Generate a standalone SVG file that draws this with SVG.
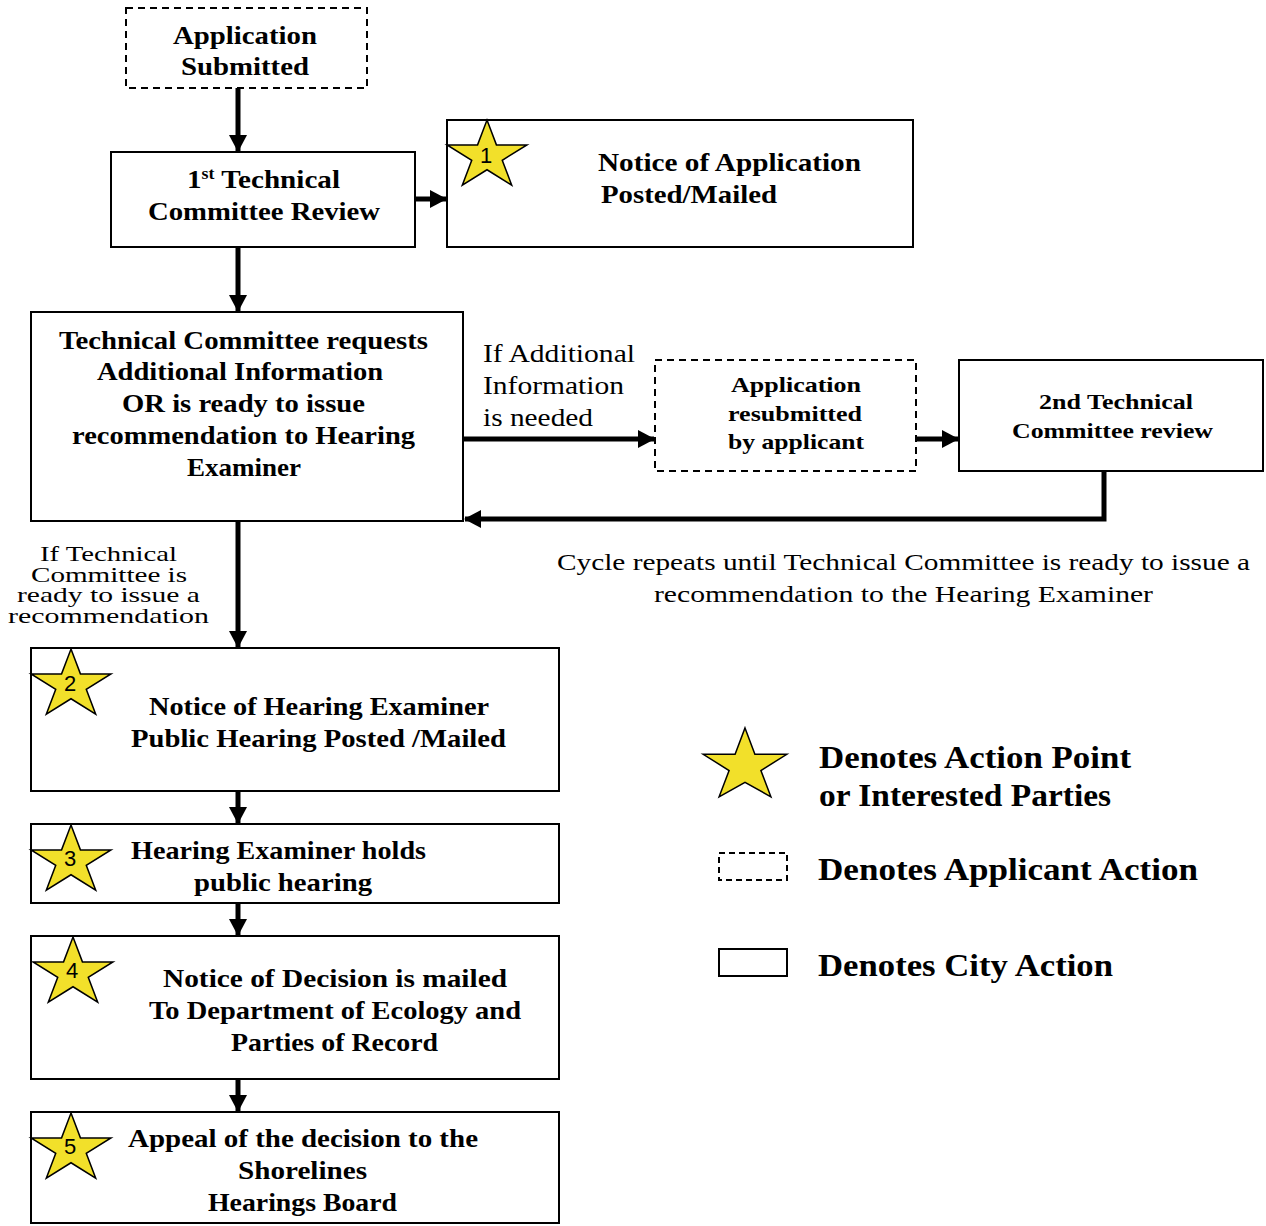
<svg xmlns="http://www.w3.org/2000/svg" xmlns:xlink="http://www.w3.org/1999/xlink" width="1266" height="1226" viewBox="0 0 1266 1226">
<style>
.box{fill:#fff;stroke:#000;stroke-width:2}
.dash{fill:#fff;stroke:#000;stroke-width:2;stroke-dasharray:7,5}
.b{font-family:"Liberation Serif","Times New Roman",serif;font-weight:bold;font-size:26px;fill:#000}
.bs{font-family:"Liberation Serif","Times New Roman",serif;font-weight:bold;font-size:22px;fill:#000}
.r{font-family:"Liberation Serif","Times New Roman",serif;font-size:26px;fill:#000}
.rt{font-family:"Liberation Serif","Times New Roman",serif;font-size:21px;fill:#000}
.rc{font-family:"Liberation Serif","Times New Roman",serif;font-size:24px;fill:#000}
.lg{font-family:"Liberation Serif","Times New Roman",serif;font-weight:bold;font-size:31px;fill:#000}
.num{font-family:"Liberation Sans",Arial,sans-serif;font-size:22px;fill:#000;text-anchor:middle}
.star{fill:#f2e02a;stroke:#000;stroke-width:1.5;stroke-linejoin:miter}
.c{text-anchor:middle}
.conn{fill:none;stroke:#000;stroke-width:5;marker-end:url(#ah)}
</style>
<defs>
<marker id="ah" markerUnits="userSpaceOnUse" markerWidth="18" markerHeight="18" refX="16" refY="9" orient="auto">
<path d="M0,0 L17,9 L0,18 Z" fill="#000"/>
</marker>
<path id="star" class="star" d="M0,-36 L9.43,-11.12 L39.94,-11.12 L15.25,4.25 L24.7,29.12 L0,13.75 L-24.7,29.12 L-15.25,4.25 L-39.94,-11.12 L-9.43,-11.12 Z"/>
</defs>

<g id="connectors">
<line class="conn" x1="238" y1="88" x2="238" y2="151"/>
<line class="conn" x1="238" y1="248" x2="238" y2="311"/>
<line class="conn" x1="415" y1="199" x2="446" y2="199"/>
<line class="conn" x1="463" y1="439" x2="654" y2="439"/>
<line class="conn" x1="916" y1="439" x2="958" y2="439"/>
<path class="conn" d="M1104,471 V519 H465"/>
<line class="conn" x1="238" y1="521" x2="238" y2="647"/>
<line class="conn" x1="238" y1="792" x2="238" y2="823"/>
<line class="conn" x1="238" y1="904" x2="238" y2="935"/>
<line class="conn" x1="238" y1="1080" x2="238" y2="1111"/>
</g>

<g id="app-submitted">
<rect class="dash" x="126" y="8" width="241" height="80"/>
<text class="b c" x="245" y="44" textLength="144" lengthAdjust="spacingAndGlyphs">Application</text>
<text class="b c" x="245" y="75" textLength="128" lengthAdjust="spacingAndGlyphs">Submitted</text>
</g>

<g id="first-review">
<rect class="box" x="111" y="152" width="304" height="95"/>
<text class="b c" x="263.5" y="188" textLength="153" lengthAdjust="spacingAndGlyphs">1<tspan font-size="16" dy="-9">st</tspan><tspan dy="9"> Technical</tspan></text>
<text class="b c" x="264" y="220" textLength="232" lengthAdjust="spacingAndGlyphs">Committee Review</text>
</g>

<g id="notice-application">
<rect class="box" x="447" y="120" width="466" height="127"/>
<use xlink:href="#star" x="487" y="156"/>
<text class="num" x="486" y="163">1</text>
<text class="b" x="598" y="171" textLength="263" lengthAdjust="spacingAndGlyphs">Notice of Application</text>
<text class="b" x="601" y="203" textLength="176" lengthAdjust="spacingAndGlyphs">Posted/Mailed</text>
</g>

<g id="tc-requests">
<rect class="box" x="31" y="312" width="432" height="209"/>
<text class="b c" x="243.5" y="349" textLength="369" lengthAdjust="spacingAndGlyphs">Technical Committee requests</text>
<text class="b c" x="240" y="380" textLength="286" lengthAdjust="spacingAndGlyphs">Additional Information</text>
<text class="b c" x="243.5" y="412" textLength="243" lengthAdjust="spacingAndGlyphs">OR is ready to issue</text>
<text class="b c" x="243.5" y="444" textLength="343" lengthAdjust="spacingAndGlyphs">recommendation to Hearing</text>
<text class="b c" x="244" y="476" textLength="114" lengthAdjust="spacingAndGlyphs">Examiner</text>
</g>

<g id="label-additional">
<text class="r" x="483" y="362" textLength="152" lengthAdjust="spacingAndGlyphs">If Additional</text>
<text class="r" x="483" y="394" textLength="141" lengthAdjust="spacingAndGlyphs">Information</text>
<text class="r" x="483" y="426" textLength="110" lengthAdjust="spacingAndGlyphs">is needed</text>
</g>

<g id="resubmitted">
<rect class="dash" x="655" y="360" width="261" height="111"/>
<text class="bs c" x="796" y="392" textLength="130" lengthAdjust="spacingAndGlyphs">Application</text>
<text class="bs c" x="795" y="421" textLength="134" lengthAdjust="spacingAndGlyphs">resubmitted</text>
<text class="bs c" x="796" y="449" textLength="136" lengthAdjust="spacingAndGlyphs">by applicant</text>
</g>

<g id="second-review">
<rect class="box" x="959" y="360" width="304" height="111"/>
<text class="bs c" x="1116" y="409" textLength="154" lengthAdjust="spacingAndGlyphs">2nd Technical</text>
<text class="bs c" x="1112.5" y="438" textLength="201" lengthAdjust="spacingAndGlyphs">Committee review</text>
</g>

<g id="label-cycle">
<text class="rc c" x="903.5" y="570" textLength="693" lengthAdjust="spacingAndGlyphs">Cycle repeats until Technical Committee is ready to issue a</text>
<text class="rc c" x="903.5" y="602" textLength="499" lengthAdjust="spacingAndGlyphs">recommendation to the Hearing Examiner</text>
</g>

<g id="label-ready">
<text class="rt c" x="108.5" y="561" textLength="137" lengthAdjust="spacingAndGlyphs">If Technical</text>
<text class="rt c" x="109" y="582" textLength="156" lengthAdjust="spacingAndGlyphs">Committee is</text>
<text class="rt c" x="108.5" y="602" textLength="183" lengthAdjust="spacingAndGlyphs">ready to issue a</text>
<text class="rt c" x="108.5" y="623" textLength="201" lengthAdjust="spacingAndGlyphs">recommendation</text>
</g>

<g id="notice-hearing">
<rect class="box" x="31" y="648" width="528" height="143"/>
<use xlink:href="#star" x="71" y="685"/>
<text class="num" x="70" y="691">2</text>
<text class="b c" x="319" y="715" textLength="340" lengthAdjust="spacingAndGlyphs">Notice of Hearing Examiner</text>
<text class="b c" x="318.5" y="747" textLength="375" lengthAdjust="spacingAndGlyphs">Public Hearing Posted /Mailed</text>
</g>

<g id="public-hearing">
<rect class="box" x="31" y="824" width="528" height="79"/>
<use xlink:href="#star" x="71" y="861"/>
<text class="num" x="70" y="866">3</text>
<text class="b c" x="278.5" y="859" textLength="295" lengthAdjust="spacingAndGlyphs">Hearing Examiner holds</text>
<text class="b c" x="283" y="891" textLength="178" lengthAdjust="spacingAndGlyphs">public hearing</text>
</g>

<g id="notice-decision">
<rect class="box" x="31" y="936" width="528" height="143"/>
<use xlink:href="#star" x="73" y="973"/>
<text class="num" x="72" y="978">4</text>
<text class="b c" x="335" y="987" textLength="344" lengthAdjust="spacingAndGlyphs">Notice of Decision is mailed</text>
<text class="b c" x="335" y="1019" textLength="372" lengthAdjust="spacingAndGlyphs">To Department of Ecology and</text>
<text class="b c" x="334.5" y="1051" textLength="207" lengthAdjust="spacingAndGlyphs">Parties of Record</text>
</g>

<g id="appeal">
<rect class="box" x="31" y="1112" width="528" height="111"/>
<use xlink:href="#star" x="71" y="1149"/>
<text class="num" x="70" y="1154">5</text>
<text class="b c" x="303" y="1147" textLength="350" lengthAdjust="spacingAndGlyphs">Appeal of the decision to the</text>
<text class="b c" x="302.5" y="1179" textLength="129" lengthAdjust="spacingAndGlyphs">Shorelines</text>
<text class="b c" x="302.5" y="1211" textLength="189" lengthAdjust="spacingAndGlyphs">Hearings Board</text>
</g>

<g id="legend">
<path class="star" d="M745,728 L754.9,754.3 L786.8,754.3 L760.9,770.5 L770.9,796.8 L745,782.3 L719.1,796.8 L729.1,770.5 L703.2,754.3 L735.1,754.3 Z"/>
<text class="lg" x="819" y="768" textLength="312" lengthAdjust="spacingAndGlyphs">Denotes Action Point</text>
<text class="lg" x="819" y="806" textLength="292" lengthAdjust="spacingAndGlyphs">or Interested Parties</text>
<rect class="dash" x="719" y="853" width="68" height="27" style="stroke-dasharray:6,4"/>
<text class="lg" x="818" y="880" textLength="380" lengthAdjust="spacingAndGlyphs">Denotes Applicant Action</text>
<rect class="box" x="719" y="949" width="68" height="27"/>
<text class="lg" x="818" y="976" textLength="295" lengthAdjust="spacingAndGlyphs">Denotes City Action</text>
</g>
</svg>
